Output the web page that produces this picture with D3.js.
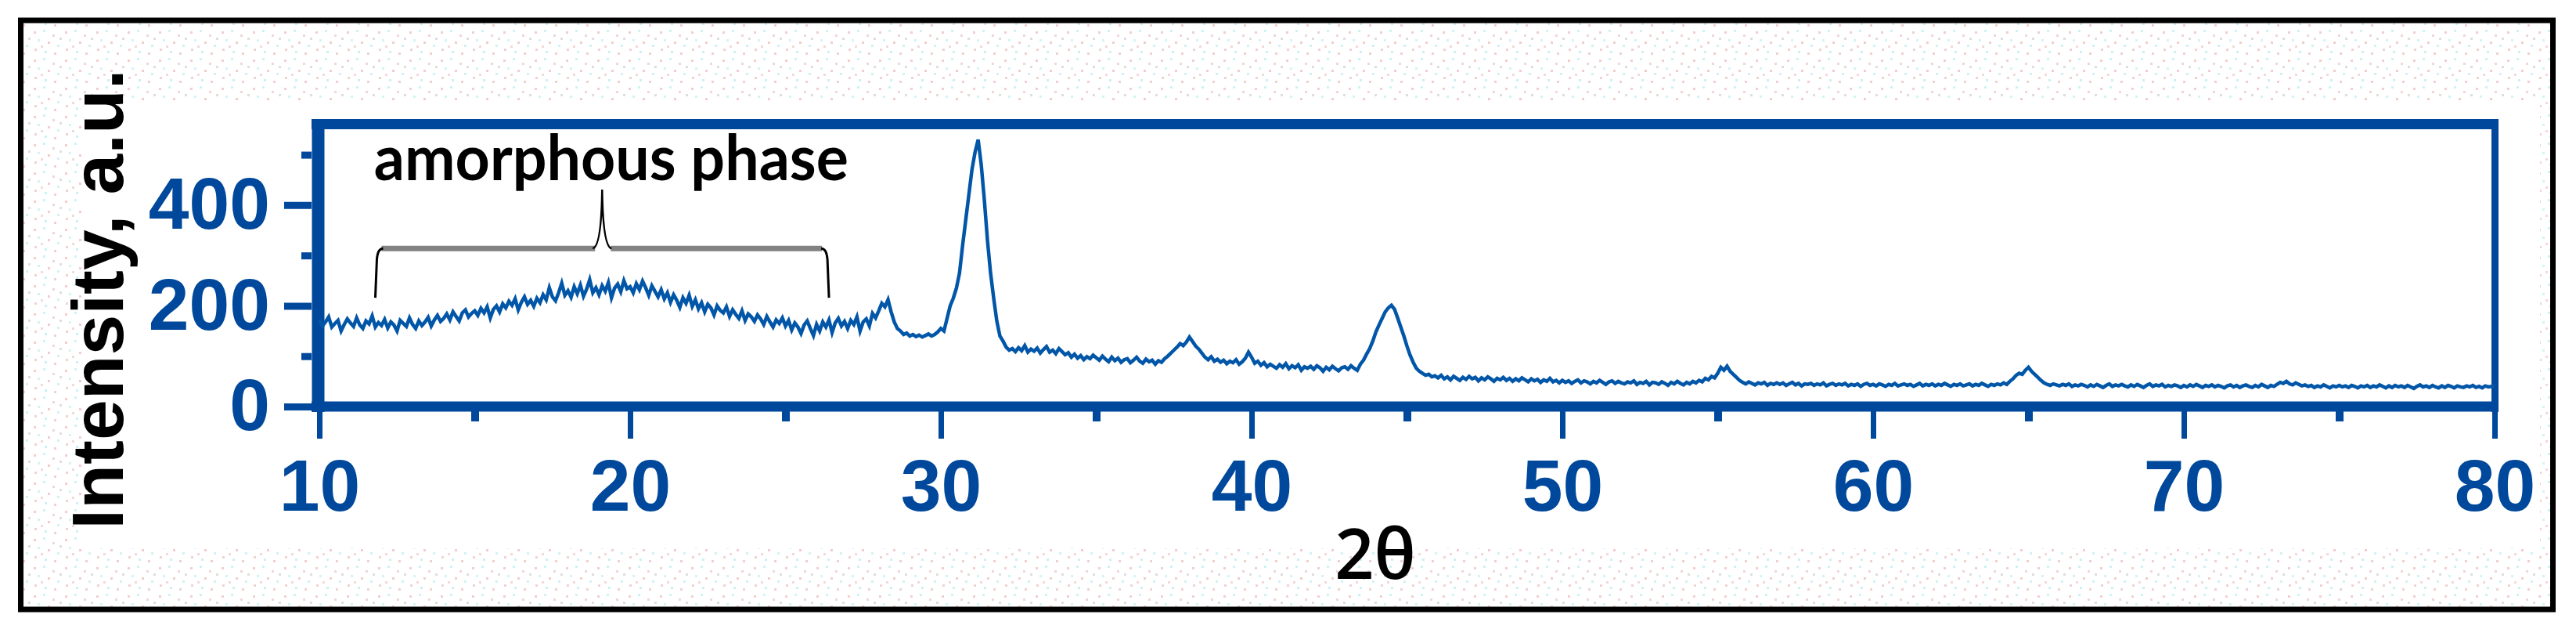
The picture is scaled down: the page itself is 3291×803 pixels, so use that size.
<!DOCTYPE html>
<html>

<head>
    <meta charset="UTF-8">
    <title>XRD pattern</title>
    <script src="https://d3js.org/d3.v7.min.js"></script>
    <style>
        body {
            margin: 0;
            background: white;
        }

        .tick text {
            font-family: "Liberation Sans", Arial, sans-serif;
            font-weight: bold;
            font-size: 93px;
            fill: #00489b;
        }

        .tick line {
            stroke: #00489b;
        }

        .domain {
            display: none;
        }

        .spine {
            stroke: #00489b;
            fill: none;
        }
    </style>
</head>

<body>
    <script>
        // 2theta grid of the scan
        var angleStart = 10;
        var angleStep = 0.1;

        // intensity, one row per degree (x.0 .. x.9)
        var intensity = [
            172, 160, 168, 178, 158, 165, 171, 150, 163, 174,
            166, 159, 176, 162, 155, 170, 164, 180, 158, 167,
            161, 173, 156, 168, 162, 150, 171, 165, 159, 176,
            163, 155, 170, 161, 168, 177, 160, 172, 181, 169,
            175, 184, 172, 188, 179, 170, 186, 192, 178, 185,
            190, 181, 195, 186, 198, 176, 193, 200, 188, 204,
            196, 209, 201, 214, 192, 207, 218, 203, 211, 199,
            215, 206, 222, 212, 236, 218, 210, 226, 245, 221,
            230, 217, 238, 224, 241, 219, 233, 252, 226, 236,
            222, 240, 229, 246, 216, 235, 243, 228, 250, 234,
            238, 226, 244, 232, 249, 236, 221, 240, 229, 218,
            232, 214, 226, 207, 222, 211, 197, 216, 205, 221,
            199, 212, 194, 206, 188, 203, 196, 182, 200, 191,
            186, 198, 179, 192, 183, 175, 190, 171, 184, 178,
            169, 182, 174, 163, 179, 168, 158, 172, 165, 176,
            160, 171, 152, 166, 158, 145, 162, 170, 155, 141,
            163, 150, 168, 158, 172, 147, 166, 175, 160, 169,
            155, 171, 163, 178, 150, 168, 174, 160, 185, 176,
            190, 205, 198, 212, 188, 168, 155, 150, 143, 146,
            140, 143, 139, 142, 138, 141, 144, 140, 143, 148,
            155, 150, 175, 200, 215, 235, 265, 320, 370, 420,
            470, 505, 530, 480, 410, 330, 265, 215, 170, 140,
            130, 118, 112, 115, 109, 117, 111, 121, 108, 114,
            110, 116, 106, 113, 119, 108, 112, 105, 115, 109,
            103, 107, 98, 104, 96, 101, 93, 99, 95, 102,
            97, 92, 100, 94, 89, 98, 91, 96, 88, 93,
            95, 87, 92, 98, 90, 86, 94, 89, 92, 84,
            91, 88, 95, 100, 106, 112, 118, 125, 121, 128,
            138, 129, 120, 114, 106, 98, 93, 99, 90, 94,
            88, 92, 85, 90, 87, 93, 84, 89, 96, 108,
            98, 86, 90, 82, 87, 79, 84, 80, 76, 83,
            78, 85, 75, 81, 77, 83, 72, 79, 76, 80,
            74, 81, 77, 70, 78, 73, 80, 75, 71, 77,
            79, 74, 81, 76, 72, 84, 92, 104, 115, 130,
            148, 162, 175, 188, 196, 201, 193, 176, 158, 140,
            120, 102, 88, 76, 70, 66, 62, 64, 59, 61,
            57, 62, 55, 59, 53, 60, 56, 52, 58, 54,
            60, 55, 58, 51, 57, 53, 59, 55, 50, 56,
            53, 58, 52, 56, 50, 55, 51, 57, 53, 49,
            55, 51, 54, 48, 53, 50, 56, 49, 52, 47,
            52, 48, 51, 46, 50, 53, 47, 51, 49, 45,
            50, 47, 52, 48, 44, 49, 51, 46, 50, 47,
            45, 49, 47, 51, 44, 48, 46, 50, 43, 48,
            47, 44, 49, 46, 42, 48, 45, 50, 46, 43,
            48, 45, 50, 47, 52, 49, 56, 53, 60, 57,
            66, 78, 72, 80, 70, 64, 58, 52, 48, 45,
            49, 46, 43, 47, 45, 48, 42, 46, 44, 47,
            44, 47, 42, 45, 48, 43, 46, 41, 45, 44,
            46, 42, 45, 43, 47, 41, 44, 46, 42, 45,
            43, 46, 41, 44, 42, 45, 40, 44, 46, 42,
            44, 41, 45, 43, 40, 44, 42, 46, 41, 43,
            45, 42, 44, 40, 43, 46, 41, 44, 42, 45,
            41, 44, 42, 46, 43, 40, 44, 42, 45, 41,
            43, 45, 41, 44, 42, 46, 43, 40, 44, 42,
            45, 43, 47, 44, 50, 55, 62, 66, 64, 72,
            78, 70, 64, 58, 52, 47, 44, 42, 45, 43,
            41, 44, 42, 45, 40, 43, 41, 44, 42, 39,
            43, 40, 44, 41, 38, 42, 45, 40, 43, 41,
            44, 41, 39, 43, 40, 44, 41, 38, 42, 45,
            40, 43, 41, 44, 39, 42, 40, 43, 41, 38,
            42, 39, 43, 40, 44, 41, 38, 42, 40, 43,
            39, 42, 40, 37, 41, 43, 39, 42, 38, 41,
            43, 40, 38, 42, 39, 44, 41, 38, 42, 40,
            44, 48, 46, 50, 45, 43, 47, 44, 41, 43,
            40, 42, 38, 41, 39, 43, 40, 37, 41, 39,
            42, 39, 41, 38, 42, 40, 37, 41, 39, 42,
            38, 41, 39, 43, 40, 37, 41, 38, 42, 39,
            41, 38, 42, 39, 36, 40, 43, 39, 41, 38,
            42, 39, 37, 41, 38, 42, 40, 37, 41, 39,
            38, 41, 39, 42, 38, 40, 37, 41, 39, 40,
            39
        ];

        var xMajorTicks = [10, 20, 30, 40, 50, 60, 70, 80];
        var xMinorTicks = [15, 25, 35, 45, 55, 65, 75];
        var yMajorTicks = [0, 200, 400];
        var yMinorTicks = [100, 300, 500];

        // curly brace over the amorphous hump: left leg, middle, right leg (2theta)
        var braceAngles = [11.8, 19.1, 26.4];
        // leg bottom, bar, tip (intensity)
        var braceLevels = [216, 314, 431];

        var svg = d3.select("body").append("svg")
            .attr("width", 3291).attr("height", 803);

        // faint speckle around the figure
        var defs = svg.append("defs");
        var pat = defs.append("pattern").attr("id", "speckle")
            .attr("patternUnits", "userSpaceOnUse")
            .attr("width", 40).attr("height", 36);
        var dots = [
            [3, 4, "#f2cfcf"], [15, 2, "#cdf3f6"], [27, 8, "#f0d6d6"], [8, 14, "#d2f4f7"],
            [21, 17, "#f2cdcd"], [33, 21, "#cff2f5"], [4, 26, "#efd3d3"], [17, 29, "#ccf0f3"],
            [29, 31, "#f1d0d0"], [36, 12, "#dedede"], [12, 22, "#f4d9d9"]
        ];
        pat.selectAll("rect").data(dots).enter().append("rect")
            .attr("x", function (d) { return d[0]; })
            .attr("y", function (d) { return d[1]; })
            .attr("width", 3).attr("height", 3)
            .attr("fill", function (d) { return d[2]; });

        svg.append("rect")
            .attr("x", 26.5).attr("y", 26).attr("width", 3235).attr("height", 752)
            .attr("fill", "url(#speckle)");
        svg.append("rect")
            .attr("x", 105).attr("y", 128).attr("width", 3140).attr("height", 572)
            .attr("fill", "white");
        svg.append("rect")
            .attr("x", 26.5).attr("y", 26).attr("width", 3235).attr("height", 752)
            .attr("fill", "none").attr("stroke", "black").attr("stroke-width", 7);

        var x = d3.scaleLinear().domain([10, 80]).range([408, 3187]);
        var y = d3.scaleLinear().domain([0, 560]).range([519, 159]);

        // axes
        var yAxis = svg.append("g").attr("transform", "translate(398,0)")
            .call(d3.axisLeft(y).tickValues(yMajorTicks).tickSize(35).tickPadding(18)
                .tickFormat(d3.format("d")));
        yAxis.selectAll(".tick line").attr("stroke-width", 9);

        var yMinor = svg.append("g").attr("transform", "translate(398,0)")
            .call(d3.axisLeft(y).tickValues(yMinorTicks).tickSize(13).tickFormat(""));
        yMinor.selectAll(".tick line").attr("stroke-width", 9);

        var xAxis = svg.append("g").attr("transform", "translate(0,525)")
            .call(d3.axisBottom(x).tickValues(xMajorTicks).tickSize(35).tickPadding(26)
                .tickFormat(d3.format("d")));
        xAxis.selectAll(".tick line").attr("stroke-width", 7);

        var xMinor = svg.append("g").attr("transform", "translate(0,525)")
            .call(d3.axisBottom(x).tickValues(xMinorTicks).tickSize(13).tickFormat(""));
        xMinor.selectAll(".tick line").attr("stroke-width", 10);

        // frame
        var frame = svg.append("g").attr("class", "spine");
        frame.append("line").attr("x1", 406.5).attr("x2", 406.5).attr("y1", 152).attr("y2", 526)
            .attr("stroke-width", 16);
        frame.append("line").attr("x1", 398).attr("x2", 3192).attr("y1", 158.5).attr("y2", 158.5)
            .attr("stroke-width", 13);
        frame.append("line").attr("x1", 398).attr("x2", 3192).attr("y1", 519).attr("y2", 519)
            .attr("stroke-width", 13);
        frame.append("line").attr("x1", 3187.5).attr("x2", 3187.5).attr("y1", 152).attr("y2", 526)
            .attr("stroke-width", 9);

        // pattern
        var line = d3.line()
            .x(function (d, i) { return x(angleStart + i * angleStep); })
            .y(function (d) { return y(d); });

        svg.append("path")
            .datum(intensity)
            .attr("d", line)
            .attr("fill", "none")
            .attr("stroke", "#0256a8")
            .attr("stroke-width", 4.5);

        // brace
        var bx0 = x(braceAngles[0]), bxm = x(braceAngles[1]), bx1 = x(braceAngles[2]);
        var yLeg = y(braceLevels[0]), yBar = y(braceLevels[1]), yTip = y(braceLevels[2]);

        svg.append("path")
            .attr("d", "M" + (bx0 + 8) + "," + yBar + " H" + (bxm - 9) +
                " M" + (bxm + 11) + "," + yBar + " H" + (bx1 - 9))
            .attr("fill", "none").attr("stroke", "#828282").attr("stroke-width", 7);

        svg.append("path")
            .attr("d", "M" + bx0 + "," + yLeg + " L" + (bx0 + 2) + "," + (yBar + 14) +
                " Q" + (bx0 + 3) + "," + yBar + " " + (bx0 + 10) + "," + yBar +
                " M" + bx1 + "," + yLeg + " L" + (bx1 - 2) + "," + (yBar + 14) +
                " Q" + (bx1 - 3) + "," + yBar + " " + (bx1 - 10) + "," + yBar)
            .attr("fill", "none").attr("stroke", "black").attr("stroke-width", 3);

        svg.append("path")
            .attr("d", "M" + (bxm - 12) + "," + yBar + " Q" + (bxm - 1) + "," + (yBar - 2) + " " + bxm + "," + yTip +
                " M" + (bxm + 12) + "," + yBar + " Q" + (bxm + 1) + "," + (yBar - 2) + " " + bxm + "," + yTip)
            .attr("fill", "none").attr("stroke", "black").attr("stroke-width", 2.5);

        svg.append("text")
            .attr("x", x(11.76)).attr("y", y(450))
            .attr("font-family", "Lato, 'Open Sans', sans-serif")
            .attr("font-weight", "bold")
            .attr("font-size", 80)
            .attr("textLength", 606)
            .attr("lengthAdjust", "spacingAndGlyphs")
            .attr("fill", "black")
            .text("amorphous phase");

        // axis titles
        svg.append("text")
            .attr("transform", "translate(157,382) rotate(-90)")
            .attr("text-anchor", "middle")
            .attr("font-family", "'Liberation Sans', Arial, sans-serif")
            .attr("font-weight", "bold")
            .attr("font-size", 93)
            .attr("fill", "black")
            .text("Intensity, a.u.");

        svg.append("text")
            .attr("x", 1757).attr("y", 739)
            .attr("text-anchor", "middle")
            .attr("font-family", "'Open Sans', sans-serif")
            .attr("font-weight", 600)
            .attr("font-size", 88)
            .attr("fill", "black")
            .text("2θ");
    </script>
</body>

</html>
